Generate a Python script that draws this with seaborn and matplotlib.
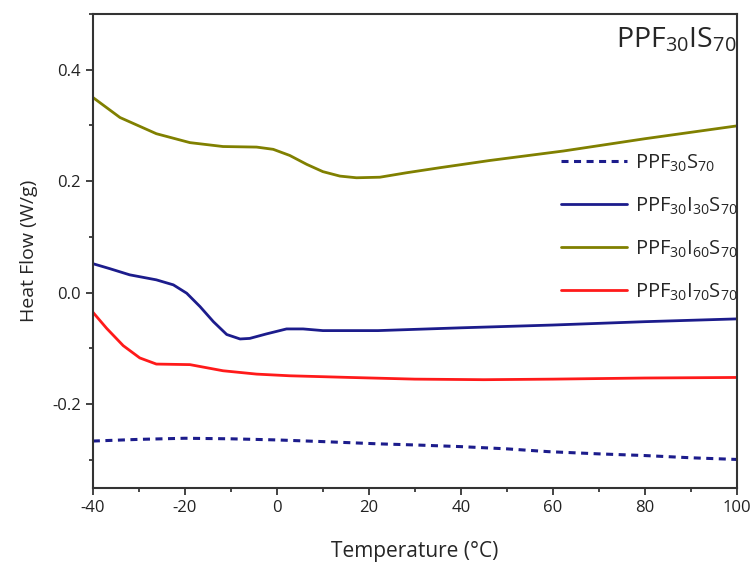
import matplotlib
matplotlib.use("Agg")
import matplotlib.pyplot as plt
import seaborn as sns
from matplotlib.ticker import MultipleLocator, FormatStrFormatter

# DSC heat-flow traces, temperature in °C and heat flow in W/g
temp_s = [-40, -30, -20, -10, 0, 10, 22, 30, 40, 50, 59, 70, 80, 90, 100]
flow_s = [-0.266, -0.263, -0.261, -0.262, -0.264, -0.267, -0.271, -0.273, -0.276, -0.280, -0.285, -0.289, -0.292, -0.296, -0.299]

temp_i30 = [-40, -36.3, -32, -26.2, -22.5, -19.6, -16.7, -13.8, -10.9, -8.0, -5.9, -2.3, 2.1, 5.7, 10, 16, 22, 40, 60, 80, 100]
flow_i30 = [0.052, 0.043, 0.032, 0.023, 0.014, -0.001, -0.025, -0.052, -0.075, -0.083, -0.082, -0.074, -0.065, -0.065, -0.068, -0.068, -0.068, -0.063, -0.058, -0.052, -0.047]

temp_i60 = [-40, -34.1, -26.2, -18.9, -11.7, -4.4, -0.8, 2.8, 6.5, 10.0, 13.7, 17.3, 22.4, 28.2, 35.4, 46.3, 62.3, 80, 100]
flow_i60 = [0.350, 0.314, 0.285, 0.269, 0.262, 0.261, 0.257, 0.246, 0.230, 0.217, 0.209, 0.206, 0.207, 0.215, 0.224, 0.237, 0.254, 0.276, 0.299]

temp_i70 = [-40, -37, -33.4, -29.8, -26.2, -18.9, -11.7, -4.4, 2.8, 15.9, 30, 45, 60, 80, 100]
flow_i70 = [-0.035, -0.064, -0.095, -0.117, -0.128, -0.129, -0.140, -0.146, -0.149, -0.152, -0.155, -0.156, -0.155, -0.153, -0.152]

labels = ["PPF$_{30}$S$_{70}$", "PPF$_{30}$I$_{30}$S$_{70}$",
          "PPF$_{30}$I$_{60}$S$_{70}$", "PPF$_{30}$I$_{70}$S$_{70}$"]
title = "PPF$_{30}$IS$_{70}$"

sns.set_style("ticks")
plt.rcParams["font.family"] = ["Open Sans", "DejaVu Sans"]
plt.rcParams["mathtext.fontset"] = "custom"
plt.rcParams["mathtext.rm"] = "Open Sans"
plt.rcParams["mathtext.it"] = "Open Sans"
plt.rcParams["axes.unicode_minus"] = False

fig = plt.figure(figsize=(7.55, 5.74), dpi=100)
ax = fig.add_axes([0.123, 0.150, 0.853, 0.826])

navy = "#1c1c8c"
sns.lineplot(x=temp_s, y=flow_s, ax=ax, color=navy, lw=2.2, linestyle=(0, (2.3, 1.8)), label=labels[0])
sns.lineplot(x=temp_i30, y=flow_i30, ax=ax, color=navy, lw=2.0, label=labels[1])
sns.lineplot(x=temp_i60, y=flow_i60, ax=ax, color="#808000", lw=2.0, label=labels[2])
sns.lineplot(x=temp_i70, y=flow_i70, ax=ax, color="#ff1a1a", lw=2.0, label=labels[3])

ax.set_xlim(-40, 100)
ax.set_ylim(-0.35, 0.5)
ax.xaxis.set_major_locator(MultipleLocator(20))
ax.xaxis.set_minor_locator(MultipleLocator(10))
ax.yaxis.set_major_locator(MultipleLocator(0.2))
ax.yaxis.set_minor_locator(MultipleLocator(0.1))
ax.yaxis.set_major_formatter(FormatStrFormatter("%.1f"))
ax.tick_params(which="major", direction="out", length=5, width=1.2, labelsize=12, colors="#222222")
ax.tick_params(which="minor", direction="out", length=3, width=1.2)
for sp in ax.spines.values():
    sp.set_linewidth(1.5)
    sp.set_color("#333333")

ax.set_xlabel("Temperature (°C)", fontsize=15, labelpad=18)
ax.set_ylabel("Heat Flow (W/g)", fontsize=14, labelpad=10)

ax.text(1.0, 0.975, title, transform=ax.transAxes, ha="right", va="top", fontsize=20.5)

ax.legend(loc="upper right", bbox_to_anchor=(1.03, 0.746), frameon=False,
          fontsize=14.5, handlelength=3.3, handletextpad=0.4, labelspacing=1.08)

fig.savefig("out.png", dpi=100)
